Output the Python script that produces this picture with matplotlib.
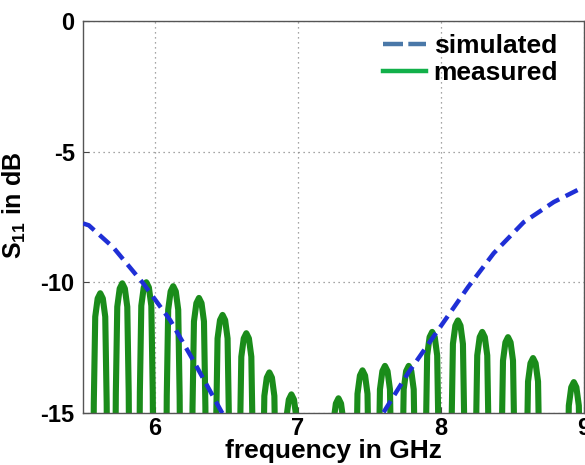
import matplotlib
matplotlib.use("Agg")
import matplotlib.pyplot as plt
from matplotlib.lines import Line2D

plt.rcParams['font.family'] = ['Liberation Sans', 'DejaVu Sans']
plt.rcParams['font.weight'] = 'bold'
plt.rcParams['axes.unicode_minus'] = False
plt.rcParams['mathtext.fontset'] = 'custom'
plt.rcParams['mathtext.bf'] = 'Liberation Sans:bold'
plt.rcParams['mathtext.rm'] = 'Liberation Sans:bold'

# simulated S11 (GHz, dB) - the part below -15 dB is clipped by the axes
sim_freq = [5.50, 5.54, 5.71, 5.92, 6.11, 6.27, 6.47, 6.80, 7.10, 7.40, 7.60,
            7.77, 7.98, 8.19, 8.37, 8.58, 8.79, 9.00]
sim_db = [-7.75, -7.82, -8.66, -10.04, -11.46, -12.99, -14.98, -17.5, -18.5, -17.0, -14.98,
          -13.49, -11.84, -10.19, -8.89, -7.70, -6.93, -6.35]

# measured S11, one row per ripple (nulls fall below the -15 dB floor)
meas_freq = [
    5.500, 5.540,
    5.565, 5.575, 5.585, 5.602, 5.620, 5.638, 5.655, 5.665, 5.675,
    5.719, 5.729, 5.739, 5.756, 5.774, 5.792, 5.809, 5.819, 5.829,
    5.887, 5.897, 5.907, 5.924, 5.942, 5.960, 5.977, 5.987, 5.997,
    6.075, 6.085, 6.095, 6.112, 6.130, 6.148, 6.165, 6.175, 6.185,
    6.255, 6.265, 6.275, 6.292, 6.310, 6.328, 6.345, 6.355, 6.365,
    6.420, 6.430, 6.440, 6.457, 6.475, 6.493, 6.510, 6.520, 6.530,
    6.586, 6.596, 6.606, 6.623, 6.641, 6.659, 6.676, 6.686, 6.696,
    6.747, 6.757, 6.767, 6.784, 6.802, 6.820, 6.837, 6.847, 6.857,
    6.901, 6.911, 6.921, 6.938, 6.956, 6.974, 6.991, 7.001, 7.011,
    7.230, 7.240, 7.250, 7.267, 7.285, 7.303, 7.320, 7.330, 7.340,
    7.398, 7.408, 7.418, 7.435, 7.453, 7.471, 7.488, 7.498, 7.508,
    7.555, 7.565, 7.575, 7.592, 7.610, 7.628, 7.645, 7.655, 7.665,
    7.721, 7.731, 7.741, 7.758, 7.776, 7.794, 7.811, 7.821, 7.831,
    7.885, 7.895, 7.905, 7.922, 7.940, 7.958, 7.975, 7.985, 7.995,
    8.065, 8.075, 8.085, 8.102, 8.120, 8.138, 8.155, 8.165, 8.175,
    8.235, 8.245, 8.255, 8.272, 8.290, 8.308, 8.325, 8.335, 8.345,
    8.415, 8.425, 8.435, 8.452, 8.470, 8.488, 8.505, 8.515, 8.525,
    8.590, 8.600, 8.610, 8.627, 8.645, 8.663, 8.680, 8.690, 8.700,
    8.875, 8.885, 8.895, 8.912, 8.930, 8.948, 8.965, 8.975, 8.985,
    9.000,
]
meas_db = [
    -24.0, -24.0,
    -22.42, -14.62, -11.32, -10.62, -10.42, -10.62, -11.32, -14.62, -22.42,
    -22.04, -14.24, -10.94, -10.24, -10.04, -10.24, -10.94, -14.24, -22.04,
    -22.00, -14.20, -10.90, -10.20, -10.00, -10.20, -10.90, -14.20, -22.00,
    -22.15, -14.35, -11.05, -10.35, -10.15, -10.35, -11.05, -14.35, -22.15,
    -22.60, -14.80, -11.50, -10.80, -10.60, -10.80, -11.50, -14.80, -22.60,
    -23.25, -15.45, -12.15, -11.45, -11.25, -11.45, -12.15, -15.45, -23.25,
    -23.95, -16.15, -12.85, -12.15, -11.95, -12.15, -12.85, -16.15, -23.95,
    -25.45, -17.65, -14.35, -13.65, -13.45, -13.65, -14.35, -17.65, -25.45,
    -26.29, -18.49, -15.19, -14.49, -14.29, -14.49, -15.19, -18.49, -26.29,
    -26.44, -18.64, -15.34, -14.64, -14.44, -14.64, -15.34, -18.64, -26.44,
    -25.37, -17.57, -14.27, -13.57, -13.37, -13.57, -14.27, -17.57, -25.37,
    -25.20, -17.40, -14.10, -13.40, -13.20, -13.40, -14.10, -17.40, -25.20,
    -25.20, -17.40, -14.10, -13.40, -13.20, -13.40, -14.10, -17.40, -25.20,
    -23.90, -16.10, -12.80, -12.10, -11.90, -12.10, -12.80, -16.10, -23.90,
    -23.46, -15.66, -12.36, -11.66, -11.46, -11.66, -12.36, -15.66, -23.46,
    -23.90, -16.10, -12.80, -12.10, -11.90, -12.10, -12.80, -16.10, -23.90,
    -24.10, -16.30, -13.00, -12.30, -12.10, -12.30, -13.00, -16.30, -24.10,
    -24.90, -17.10, -13.80, -13.10, -12.90, -13.10, -13.80, -17.10, -24.90,
    -25.82, -18.02, -14.72, -14.02, -13.82, -14.02, -14.72, -18.02, -25.82,
    -25.0,
]

x_ticks = [6, 7, 8, 9]
y_ticks = [-15, -10, -5, 0]

fig = plt.figure(figsize=(5.85, 4.65), dpi=100)
ax = fig.add_axes([0.142, 0.112, 0.856, 0.843])

ax.plot(meas_freq, meas_db, color='#1a8c1a', lw=4.4, solid_joinstyle='round', zorder=2)
ax.plot(sim_freq, sim_db, color='#1f2fd6', lw=3.2, linestyle=(0, (3, 1.6)), zorder=3)

ax.set_xlim(5.5, 9)
ax.set_ylim(-15, 0)
ax.set_xticks(x_ticks)
ax.set_yticks(y_ticks)
ax.set_xticklabels([str(t) for t in x_ticks])
ax.set_yticklabels([str(t) for t in y_ticks])
ax.tick_params(direction='in', length=4, labelsize=17, color='#444444')
ax.tick_params(axis='x', pad=3)
ax.tick_params(axis='y', pad=6)
for lab in ax.get_xticklabels() + ax.get_yticklabels():
    lab.set_fontweight('bold')

ax.grid(True, linestyle=(0, (1, 3)), color='#888888', linewidth=0.9)
for s in ax.spines.values():
    s.set_color('#555555')
    s.set_linewidth(1.0)

ax.set_xlabel('frequency in GHz', fontsize=19, fontweight='bold', labelpad=-1)
ax.set_ylabel(r'S$_{\mathbf{11}}$ in dB', fontsize=18, fontweight='bold')
ax.yaxis.set_label_coords(-0.11, 0.53)

handles = [Line2D([], [], color='#4a78a8', lw=3.2, linestyle=(0, (4.5, 1.2))),
           Line2D([], [], color='#12b04a', lw=3.2)]
ax.legend(handles, ['simulated', 'measured'], loc='upper right', frameon=False,
          prop={'size': 19, 'weight': 'bold'}, handlelength=1.6, handletextpad=0.3,
          labelspacing=0.1, borderaxespad=0.1, bbox_to_anchor=(0.975, 1.0))

fig.savefig('out.png', dpi=100)
